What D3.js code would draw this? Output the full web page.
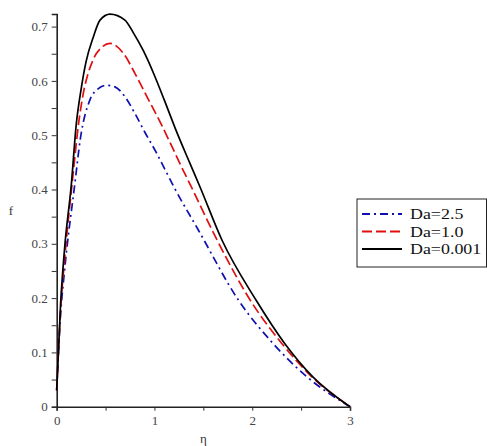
<!DOCTYPE html>
<html>
<head>
<meta charset="utf-8">
<script src="https://cdn.jsdelivr.net/npm/d3@7"></script>
<style>
  body { margin: 0; background: #fff; }
  svg { display: block; font-family: "Liberation Serif", serif; }
</style>
</head>
<body>
<script>
// Data (eta, f)
var ETA_BLUE = [0, 0.04, 0.08, 0.19, 0.24, 0.34, 0.42, 0.51, 0.596, 0.698, 0.8, 0.903, 1.022, 1.107, 1.21, 1.45, 1.86, 2.21, 2.56, 3];
var F_BLUE   = [0.03, 0.17, 0.25, 0.417, 0.491, 0.565, 0.585, 0.592, 0.589, 0.571, 0.54, 0.505, 0.467, 0.437, 0.401, 0.325, 0.196, 0.117, 0.055, 0];

var ETA_RED = [0, 0.04, 0.08, 0.16, 0.23, 0.26, 0.37, 0.45, 0.545, 0.681, 0.8, 0.92, 1.056, 1.158, 1.278, 1.363, 1.64, 1.98, 2.3, 2.61, 3];
var F_RED   = [0.03, 0.18, 0.27, 0.415, 0.53, 0.565, 0.638, 0.66, 0.669, 0.651, 0.614, 0.572, 0.525, 0.487, 0.441, 0.41, 0.307, 0.196, 0.117, 0.055, 0];

var ETA_BLACK = [0, 0.04, 0.08, 0.15, 0.2, 0.25, 0.3, 0.375, 0.443, 0.545, 0.698, 0.783, 0.885, 1.0, 1.1, 1.227, 1.363, 1.465, 1.69, 2.04, 2.33, 2.62, 3];
var F_BLACK   = [0.03, 0.19, 0.29, 0.41, 0.52, 0.585, 0.635, 0.681, 0.712, 0.723, 0.712, 0.689, 0.656, 0.61, 0.565, 0.506, 0.448, 0.405, 0.307, 0.196, 0.117, 0.055, 0];

var SERIES_LABELS = ['Da=2.5', 'Da=1.0', 'Da=0.001'];
var X_TICKS = [0, 1, 2, 3];
var Y_TICKS = [0, 0.1, 0.2, 0.3, 0.4, 0.5, 0.6, 0.7];

// Layout
var WIDTH = 487;
var HEIGHT = 446;
var X0 = 56.7, X1 = 350;
var Y0 = 406.7, Y1 = 14;

var x = d3.scaleLinear().domain([0, 3]).range([X0, X1]);
var y = d3.scaleLinear().domain([0, 0.7232]).range([Y0, Y1]);

var series = [
  { label: SERIES_LABELS[0], eta: ETA_BLUE, f: F_BLUE, color: '#1010b0', dash: '8,4,2,4' },
  { label: SERIES_LABELS[1], eta: ETA_RED, f: F_RED, color: '#e01010', dash: '10,4' },
  { label: SERIES_LABELS[2], eta: ETA_BLACK, f: F_BLACK, color: '#000', dash: null }
];

var svg = d3.select('body').append('svg')
  .attr('width', WIDTH)
  .attr('height', HEIGHT);

// Axes
var xAxis = d3.axisBottom(x)
  .tickValues(d3.range(0, 3.01, 0.5))
  .tickSize(4)
  .tickFormat(function (d) { return X_TICKS.indexOf(d) >= 0 ? d3.format('d')(d) : ''; });

var yAxis = d3.axisLeft(y)
  .tickValues(d3.range(0, 0.701, 0.05))
  .tickSize(5)
  .tickFormat(function (d) {
    var r = Math.round(d * 100) / 100;
    return Y_TICKS.some(function (t) { return Math.abs(t - r) < 1e-6; }) ? (r === 0 ? '0' : d3.format('.1f')(r)) : '';
  });

var gx = svg.append('g').attr('transform', 'translate(0,' + Y0 + ')').call(xAxis);
var gy = svg.append('g').attr('transform', 'translate(' + X0 + ',0)').call(yAxis);

[gx, gy].forEach(function (g) {
  g.attr('font-family', '"Liberation Serif", serif');
  g.select('.domain').attr('stroke', '#222').attr('stroke-width', 1.6);
  g.selectAll('.tick line').attr('stroke', '#333').attr('stroke-width', 1);
  g.selectAll('.tick text')
    .attr('font-size', 13)
    .attr('fill', '#444');
});
gy.selectAll('.tick text').attr('x', -9);
gx.selectAll('.tick text').attr('y', 9);

// Axis labels
svg.append('text')
  .attr('x', (X0 + X1) / 2)
  .attr('y', 443)
  .attr('text-anchor', 'middle')
  .attr('font-size', 13)
  .attr('fill', '#333')
  .text('η');

svg.append('text')
  .attr('x', 11)
  .attr('y', 215)
  .attr('text-anchor', 'middle')
  .attr('font-size', 13)
  .attr('fill', '#333')
  .text('f');

// Curves
var line = d3.line()
  .x(function (d) { return x(d[0]); })
  .y(function (d) { return y(d[1]); })
  .curve(d3.curveMonotoneX);

series.forEach(function (s) {
  svg.append('path')
    .attr('d', line(d3.zip(s.eta, s.f)))
    .attr('fill', 'none')
    .attr('stroke', s.color)
    .attr('stroke-width', 1.7)
    .attr('stroke-dasharray', s.dash);
});

// Legend
var legend = svg.append('g').attr('transform', 'translate(357,199)');

legend.append('rect')
  .attr('width', 129.5)
  .attr('height', 68)
  .attr('fill', '#fff')
  .attr('stroke', '#222')
  .attr('stroke-width', 1);

series.forEach(function (s, i) {
  var ly = 15 + i * 17.5;
  legend.append('line')
    .attr('x1', 5)
    .attr('x2', 45)
    .attr('y1', ly)
    .attr('y2', ly)
    .attr('stroke', s.color)
    .attr('stroke-width', 2)
    .attr('stroke-dasharray', s.dash);
  legend.append('text')
    .attr('transform', 'translate(53,' + (ly + 5) + ') scale(1.28,1)')
    .attr('font-size', 14)
    .attr('fill', '#111')
    .text(s.label);
});
</script>
</body>
</html>
